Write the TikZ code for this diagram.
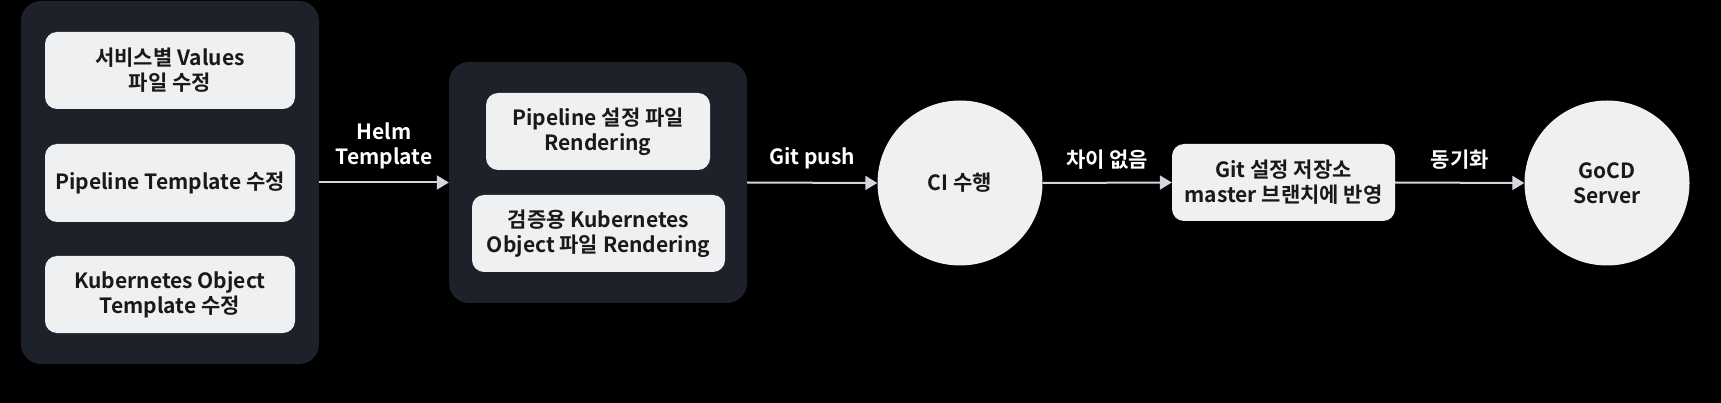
\documentclass[tikz,border=0pt]{standalone}
\usepackage{fontspec}
\setmainfont{Noto Sans CJK KR}[BoldFont={Noto Sans CJK KR Bold}]
\usetikzlibrary{arrows.meta}
\definecolor{panelgray}{HTML}{1D2129}
\definecolor{cardgray}{HTML}{EFF0F2}
\definecolor{linegray}{HTML}{D3D7DB}
\begin{document}
\begin{tikzpicture}[x=1pt,y=-1pt,
  panel/.style={fill=panelgray,rounded corners=20pt,inner sep=0pt},
  card/.style={fill=cardgray,rounded corners=12pt,align=center,inner sep=0pt,
    font=\bfseries\fontsize{21}{25}\selectfont,text=black!90},
  disc/.style={circle,fill=cardgray,minimum size=165pt,inner sep=0pt,align=center,
    font=\bfseries\fontsize{21}{25}\selectfont,text=black!90},
  flow/.style={draw=linegray,line width=2pt,-{Triangle[length=12pt,width=14pt]}},
  tag/.style={text=white,align=center,font=\bfseries\fontsize{21}{25}\selectfont}]
\fill[black] (0,0) rectangle (1721,403);
\useasboundingbox (0,0) rectangle (1721,403);
% left panel
\node[panel,minimum width=298pt,minimum height=363pt] (srcpanel) at (170,182.5) {};
\node[card,minimum width=250pt,minimum height=77pt] (values) at (170,70.5) {서비스별 Values\\파일 수정};
\node[card,minimum width=250pt,minimum height=78pt] (pipetpl) at (170,183) {Pipeline Template 수정};
\node[card,minimum width=250pt,minimum height=77pt] (k8stpl) at (170,294.5) {Kubernetes Object\\Template 수정};
% rendering panel
\node[panel,minimum width=298pt,minimum height=241pt] (renderpanel) at (598,182.5) {};
\node[card,minimum width=224pt,minimum height=77pt] (piperender) at (598,131.5) {Pipeline 설정 파일\\Rendering};
\node[card,minimum width=253pt,minimum height=77pt] (k8srender) at (598.5,233.5) {검증용 Kubernetes\\Object 파일 Rendering};
% flow
\node[disc] (ci) at (960,183) {CI 수행};
\node[card,minimum width=223pt,minimum height=77pt] (gitrepo) at (1283.5,182.5) {Git 설정 저장소\\master 브랜치에 반영};
\node[disc] (gocd) at (1607,183) {GoCD\\Server};
\draw[flow] (srcpanel.east) -- (renderpanel.west) node[tag,midway,above=9pt] {Helm\\Template};
\draw[flow] (renderpanel.east) -- (ci.west) node[tag,midway,above=9pt] {Git push};
\draw[flow] (ci.east) -- (gitrepo.west) node[tag,midway,above=9pt] {차이 없음};
\draw[flow] (gitrepo.east) -- (gocd.west) node[tag,midway,above=9pt] {동기화};
\end{tikzpicture}
\end{document}
